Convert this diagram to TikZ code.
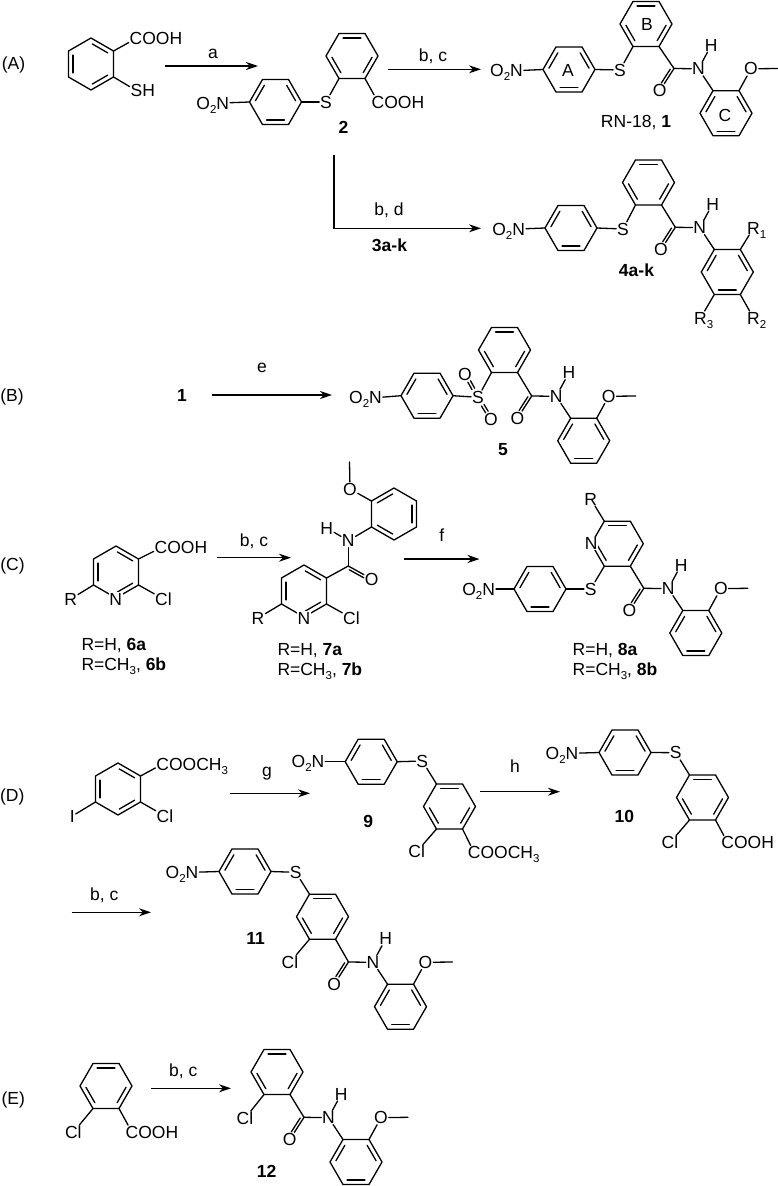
\documentclass[tikz,border=0pt]{standalone}
\usepackage{fontspec}
\setmainfont{Liberation Sans}
\usetikzlibrary{calc,arrows.meta}
\newcommand\lowidx[1]{\raisebox{-0.24em}{\fontsize{11.5}{12}\selectfont #1}}
\tikzset{
  bond/.style={line width=1.3pt,line cap=round,line join=round},
  atom/.style={inner sep=0.5pt,outer sep=0.5pt,font=\fontsize{17.5}{20}\selectfont},
  atomw/.style={atom,fill=white},
  trail/.style={inner sep=0pt,outer sep=0pt,font=\fontsize{17.5}{20}\selectfont},
  lbl/.style={inner sep=0pt,outer sep=0pt,anchor=base,font=\fontsize{17.5}{20}\selectfont},
  lblb/.style={lbl,font=\fontsize{17.5}{20}\selectfont\bfseries},
  lblw/.style={lbl,anchor=base west},
  rxn/.style={line width=1.3pt,-{Stealth[length=12pt,width=8pt]}}
}
% name cx cy rot double-edges
\newcommand\hexring[5]{%
  \coordinate (#1c) at (#2,#3);
  \foreach \ii in {0,...,5}{\coordinate (#1\ii) at ({#2+26*cos(#4+60*\ii)},{#3-26*sin(#4+60*\ii)});}
  \draw[bond] (#10)--(#11)--(#12)--(#13)--(#14)--(#15)--cycle;
  \foreach \ee in {#5}{%
    \pgfmathtruncatemacro\ff{mod(\ee+1,6)}
    \draw[bond,shorten >=1.5pt,shorten <=1.5pt] ($(#1c)!0.8!(#1\ee)$) -- ($(#1c)!0.8!(#1\ff)$);
  }%
}
\newcommand\atom[4]{\node[atom] (#1) at ({#2},{#3}) {#4};}
\newcommand\atomw[4]{\node[atomw] (#1) at ({#2},{#3}) {#4};}
% atom with text running on to the right / to the left
\newcommand\atomR[5]{\atom{#1}{#2}{#3}{#4}\node[trail,anchor=base west] (#1r) at ([xshift=-1pt]#1.base east) {#5};}
\newcommand\atomL[5]{\atom{#1}{#2}{#3}{#4}\node[trail,anchor=base east] (#1l) at ([xshift=1pt]#1.base west) {#5};}
% double bond: main line and a parallel line beside it
\newcommand\cdoub[2]{%
  \draw[bond] (#1) -- (#2);
  \draw[bond] ($(#1)!0.1!(#2)!2.8pt!-90:(#2)$) -- ($(#1)!0.72!(#2)!2.8pt!-90:(#2)$);}
\newcommand\sdoub[2]{%
  \draw[bond] ($(#1)!0.36!(#2)!1.5pt!90:(#2)$) -- ($(#1)!0.68!(#2)!1.5pt!90:(#2)$);
  \draw[bond] ($(#1)!0.36!(#2)!1.5pt!-90:(#2)$) -- ($(#1)!0.68!(#2)!1.5pt!-90:(#2)$);}
% carbonyl C at (#2,#3), N-H and its aryl ring
\newcommand\amidecore[3]{%
  \coordinate (#1C) at (#2,#3);
  \atom{#1O}{#2-14.3}{#3+22.3}{O}
  \atom{#1N}{#2+24.5}{#3+0.3}{N}
  \atom{#1H}{#2+37.3}{#3-23.3}{H}
  \hexring{#1R}{#2+52}{#3+44.7}{0}{0,2,4}
  \cdoub{#1C}{#1O}
  \draw[bond] (#1C) -- (#1N);
  \draw[bond] (#1N) -- (#1H);
  \draw[bond] (#1N) -- (#1R2);
}
% the same with the ortho OMe
\newcommand\amide[3]{%
  \amidecore{#1}{#2}{#3}
  \atom{#1E}{#2+77}{#3+0.3}{O}
  \coordinate (#1M) at ({#2+104},{#3});
  \draw[bond] (#1R1) -- (#1E);
  \draw[bond] (#1E) -- (#1M);
}
% 4-nitrophenyl ring: prefix cx cy Nx Ny
\newcommand\nitro[5]{%
  \hexring{#1A}{#2}{#3}{0}{0,2,4}
  \atomL{#1Nit}{#4}{#5}{N}{O\lowidx{2}}
  \draw[bond] (#1Nit) -- (#1A3);
}
\newcommand\rxnarrow[4]{%
  \coordinate (#1s) at (#2,#4);
  \coordinate (#1e) at (#3,#4);
  \draw[rxn] (#1s) -- (#1e);
}
\begin{document}
\begin{tikzpicture}[x=1pt,y=-1pt]
\useasboundingbox (0,0) rectangle (778,1186);

%% (A)
\node[lbl] (lA) at (13.5,69) {(A)};
\hexring{sa}{91}{64}{30}{0,2,4}
\atomR{saC}{136}{38.5}{C}{OOH}
\atomR{saS}{136.5}{90.7}{S}{H}
\draw[bond] (sa0) -- (saC);
\draw[bond] (sa5) -- (saS);
\rxnarrow{aa}{165}{258}{66}
\node[lbl] (ta) at (213,58.3) {a};

\nitro{b}{275.5}{102}{222.8}{103}
\hexring{bB}{352}{56}{0}{1,3,5}
\atom{bS}{326}{102}{S}
\atomR{bC}{378}{102}{C}{OOH}
\draw[bond] (bA0) -- (bS);
\draw[bond] (bS) -- (bB4);
\draw[bond] (bB5) -- (bC);
\node[lblb] (t2) at (343.5,133.3) {2};

\rxnarrow{ab}{388}{481}{69.3}
\node[lbl] (tbc) at (433,61) {b, c};

\nitro{c}{569}{69.5}{516.5}{70.7}
\node[lbl] (tAa) at (568,76.7) {A};
\hexring{cB}{646}{24}{0}{1,3,5}
\node[lbl] (tBb) at (647,30) {B};
\atom{cS}{620}{70}{S}
\draw[bond] (cA0) -- (cS);
\draw[bond] (cS) -- (cB4);
\amide{cm}{674}{68.5}
\draw[bond] (cB5) -- (cmC);
\node[lbl] (tCc) at (725,121) {C};
\node[lbl] (t1) at (636,127.7) {RN-18, \textbf{1}};

\coordinate (vs) at (334,155);
\coordinate (ve) at (481,228.3);
\draw[rxn] (vs) |- (ve);
\node[lbl] (tbd) at (389,215.7) {b, d};
\node[lblb] (t3) at (389.5,251.7) {3a-k};

\nitro{d}{571}{228}{518.7}{229}
\hexring{dB}{648.5}{182.5}{0}{1,3,5}
\atom{dS}{623}{229}{S}
\draw[bond] (dA0) -- (dS);
\draw[bond] (dS) -- (dB4);
\amidecore{dm}{675.3}{227.3}
\draw[bond] (dB5) -- (dmC);
\atomR{dR1}{753.5}{228}{R}{\lowidx{1}}
\atomR{dR2}{753.5}{318}{R}{\lowidx{2}}
\atomR{dR3}{700.5}{318}{R}{\lowidx{3}}
\draw[bond] (dmR1) -- (dR1);
\draw[bond] (dmR5) -- (dR2);
\draw[bond] (dmR4) -- (dR3);
\node[lblb] (t4) at (636.5,276.7) {4a-k};

%% (B)
\node[lbl] (lB) at (12,401.7) {(B)};
\node[lblb] (t1b) at (182,401) {1};
\rxnarrow{ae}{212}{332}{395}
\node[lbl] (te) at (262,372.7) {e};
\nitro{e}{427}{395.7}{375.5}{397.7}
\hexring{eB}{504.5}{350}{0}{1,3,5}
\atom{eS}{478}{397.3}{S}
\atom{eO1}{465}{374}{O}
\atom{eO2}{491}{419}{O}
\draw[bond] (eA0) -- (eS);
\draw[bond] (eS) -- (eB4);
\sdoub{eS}{eO1}
\sdoub{eS}{eO2}
\amide{em}{531.7}{396}
\draw[bond] (eB5) -- (emC);
\node[lblb] (t5) at (503,455.7) {5};

%% (C)
\node[lbl] (lC) at (12.5,570) {(C)};
\hexring{f}{116}{572}{30}{0,2,4}
\atomw{fN}{115.7}{599}{N}
\atomR{fC}{161}{547.7}{C}{OOH}
\atom{fR}{70.7}{599}{R}
\atom{fCl}{163.5}{599}{Cl}
\draw[bond] (f0) -- (fC);
\draw[bond] (f3) -- (fR);
\draw[bond] (f5) -- (fCl);
\node[lblw] (t6a) at (81.5,650.5) {R=H, \textbf{6a}};
\node[lblw] (t6b) at (81.5,670.7) {R=CH\lowidx{3}, \textbf{6b}};
\rxnarrow{ac}{216.7}{291}{557.7}
\node[lbl] (tbc2) at (254,546) {b, c};

\hexring{g}{304}{591}{30}{0,2,4}
\atomw{gN}{304}{618}{N}
\atom{gR}{258}{618}{R}
\atom{gCl}{351.5}{618}{Cl}
\coordinate (gC) at (348.3,566);
\atom{gO}{371.7}{579}{O}
\atom{gNH}{348.3}{540.7}{N}
\atom{gH}{326.7}{528}{H}
\hexring{gR6}{394}{514}{30}{1,3,5}
\atom{gE}{350}{489}{O}
\coordinate (gM) at (349.5,462);
\draw[bond] (g3) -- (gR);
\draw[bond] (g5) -- (gCl);
\draw[bond] (g0) -- (gC);
\cdoub{gC}{gO}
\draw[bond] (gC) -- (gNH);
\draw[bond] (gNH) -- (gH);
\draw[bond] (gNH) -- (gR63);
\draw[bond] (gR62) -- (gE);
\draw[bond] (gE) -- (gM);
\node[lblw] (t7a) at (277.5,655.5) {R=H, \textbf{7a}};
\node[lblw] (t7b) at (277.5,675.7) {R=CH\lowidx{3}, \textbf{7b}};

\rxnarrow{af}{404}{479.5}{559}
\node[lbl] (tf) at (441.7,541.7) {f};

\nitro{h}{540}{589}{488.7}{589}
\hexring{hP}{617.3}{543.7}{0}{1,3,5}
\atomw{hPN}{591.3}{543.7}{N}
\atom{hR}{590.7}{499}{R}
\atom{hS}{590.7}{589}{S}
\draw[bond] (hP2) -- (hR);
\draw[bond] (hA0) -- (hS);
\draw[bond] (hS) -- (hP4);
\amide{hm}{643.8}{588.3}
\draw[bond] (hP5) -- (hmC);
\node[lblw] (t8a) at (572.7,655.5) {R=H, \textbf{8a}};
\node[lblw] (t8b) at (572.7,675.7) {R=CH\lowidx{3}, \textbf{8b}};

%% (D)
\node[lbl] (lD) at (12.3,801.7) {(D)};
\hexring{i}{118}{789}{30}{0,2,4}
\atomR{iC}{162.7}{764}{C}{OOCH\lowidx{3}}
\atom{iCl}{165}{816}{Cl}
\atom{iI}{72.3}{816}{I}
\draw[bond] (i0) -- (iC);
\draw[bond] (i5) -- (iCl);
\draw[bond] (i3) -- (iI);
\rxnarrow{ag}{230}{310}{793.3}
\node[lbl] (tg) at (267,776) {g};

\nitro{j}{371.2}{761.7}{318}{761.7}
\hexring{jB}{449.5}{806.5}{0}{1,3,5}
\atom{jS}{422.3}{761}{S}
\atom{jCl}{416.7}{851.7}{Cl}
\atomR{jC}{474.3}{852.7}{C}{OOCH\lowidx{3}}
\draw[bond] (jA0) -- (jS);
\draw[bond] (jS) -- (jB2);
\draw[bond] (jB4) -- (jCl);
\draw[bond] (jB5) -- (jC);
\node[lblb] (t9) at (368.3,827.7) {9};

\rxnarrow{ah}{480}{560}{791.7}
\node[lbl] (th) at (515,772.7) {h};

\nitro{k}{625}{752.5}{572}{753.3}
\hexring{kB}{702.5}{797.5}{0}{1,3,5}
\atom{kS}{675.7}{752.7}{S}
\atom{kCl}{670}{842.7}{Cl}
\atomR{kC}{727.7}{842.7}{C}{OOH}
\draw[bond] (kA0) -- (kS);
\draw[bond] (kS) -- (kB2);
\draw[bond] (kB4) -- (kCl);
\draw[bond] (kB5) -- (kC);
\node[lblb] (t10) at (624.3,822.7) {10};

\rxnarrow{ai}{71.7}{151}{912.3}
\node[lbl] (tbc3) at (104.3,900.7) {b, c};

\nitro{l}{245}{871.5}{192}{872.3}
\hexring{lB}{322.5}{916.7}{0}{1,3,5}
\atom{lS}{295.7}{872.3}{S}
\atom{lCl}{290}{962.3}{Cl}
\draw[bond] (lA0) -- (lS);
\draw[bond] (lS) -- (lB2);
\draw[bond] (lB4) -- (lCl);
\amide{lm}{348.5}{962}
\draw[bond] (lB5) -- (lmC);
\node[lblb] (t11) at (255.7,944.3) {11};

%% (E)
\node[lbl] (lE) at (13.3,1104) {(E)};
\hexring{m}{106}{1086}{0}{1,3,5}
\atom{mCl}{73.3}{1132.3}{Cl}
\atomR{mC}{132}{1132.3}{C}{OOH}
\draw[bond] (m4) -- (mCl);
\draw[bond] (m5) -- (mC);
\rxnarrow{aj}{151}{231}{1088.3}
\node[lbl] (tbc4) at (183.3,1076) {b, c};

\hexring{n}{277}{1072}{0}{1,3,5}
\atom{nCl}{245}{1118.3}{Cl}
\draw[bond] (n4) -- (nCl);
\amide{nm}{304}{1117.3}
\draw[bond] (n5) -- (nmC);
\node[lblb] (t12) at (266.7,1177.7) {12};
\end{tikzpicture}
\end{document}
